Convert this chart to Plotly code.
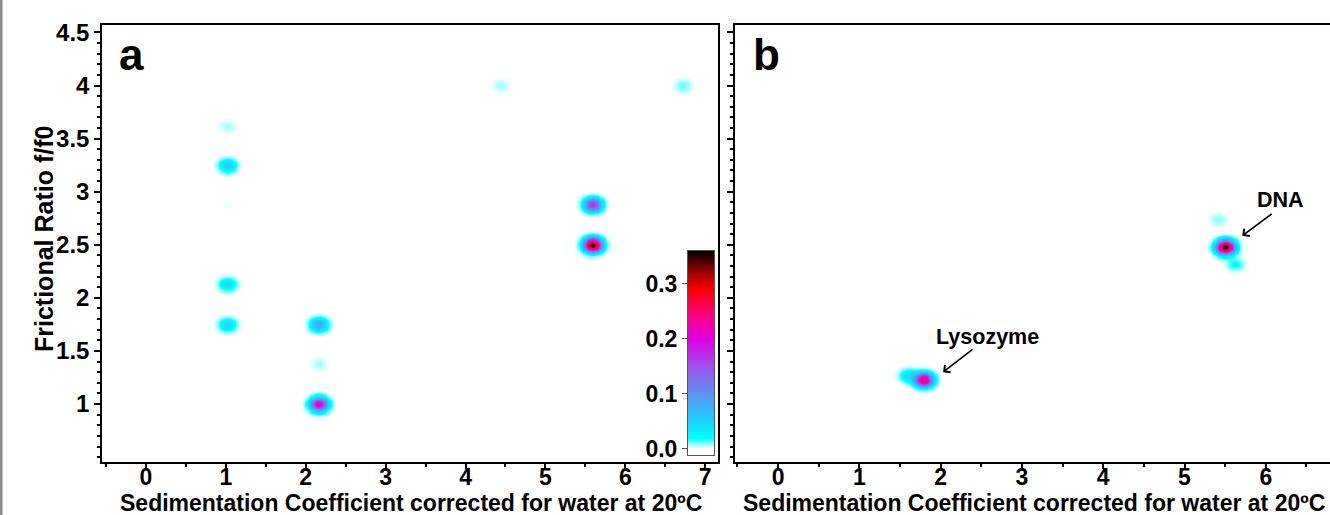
import numpy as np
import plotly.graph_objects as go

# Peak list, panel a: sedimentation coefficient, frictional ratio, concentration
a_sed = [1.02, 1.02, 1.02, 1.02, 1.02, 2.16, 2.16, 2.16, 4.44, 6.72, 5.59, 5.59]
a_ff0 = [3.62, 3.25, 2.88, 2.13, 1.75, 1.75, 1.38, 1.00, 4.00, 4.00, 2.88, 2.50]
a_conc = [0.008, 0.055, 0.002, 0.045, 0.045, 0.085, 0.008, 0.22, 0.008, 0.013, 0.17, 0.36]

# Peak list, panel b
b_sed = [1.60, 1.79, 5.41, 5.50, 5.62]
b_ff0 = [1.27, 1.23, 2.74, 2.48, 2.32]
b_conc = [0.04, 0.26, 0.010, 0.36, 0.022]

x_ticks = [0, 1, 2, 3, 4, 5, 6, 7]
y_ticks = [1, 1.5, 2, 2.5, 3, 3.5, 4, 4.5]
cbar_ticks = [0.0, 0.1, 0.2, 0.3]

SIG_S = 0.072
SIG_F = 0.042
ZMIN, ZMAX = -0.011, 0.359

W, H = 1330, 515
FONT = "Liberation Sans, Arial, sans-serif"

grid_s = np.arange(-0.6, 7.25, 0.015)
grid_f = np.arange(0.40, 4.62, 0.01)


def density(sed, ff0, conc):
    S, F = np.meshgrid(grid_s, grid_f)
    z = np.zeros_like(S)
    for s, f, c in zip(sed, ff0, conc):
        z += c * np.exp(-((S - s) ** 2) / (2 * SIG_S ** 2) - ((F - f) ** 2) / (2 * SIG_F ** 2))
    return np.round(z, 4)


def frac(v):
    return (v - ZMIN) / (ZMAX - ZMIN)


colorscale = [
    [0.0, "#ffffff"],
    [frac(0.001), "#ffffff"],
    [frac(0.02), "#00ffff"],
    [frac(0.06), "#28c4ff"],
    [frac(0.10), "#5a94f2"],
    [frac(0.15), "#a050f0"],
    [frac(0.20), "#e000e0"],
    [frac(0.25), "#ff0070"],
    [frac(0.29), "#ff0000"],
    [frac(0.325), "#900000"],
    [1.0, "#000000"],
]

fig = go.Figure()

hm = dict(x=grid_s, y=grid_f, colorscale=colorscale, zmin=ZMIN, zmax=ZMAX,
          zsmooth="best", showscale=False, hoverinfo="skip")
fig.add_trace(go.Heatmap(z=density(a_sed, a_ff0, a_conc), xaxis="x", yaxis="y", **hm))
fig.add_trace(go.Heatmap(z=density(b_sed, b_ff0, b_conc), xaxis="x2", yaxis="y2", **hm))

# colour bar drawn as its own small heatmap so the labels sit on the left
bar_vals = np.linspace(ZMIN, ZMAX, 300)
fig.add_trace(go.Heatmap(z=bar_vals.reshape(-1, 1), x=[0], y=bar_vals, xaxis="x3", yaxis="y3",
                         colorscale=colorscale, zmin=ZMIN, zmax=ZMAX, zsmooth="best",
                         showscale=False, hoverinfo="skip"))

tickfont = dict(family=FONT, size=24, color="black", weight="bold")
xcommon = dict(showline=True, linecolor="black", linewidth=1.5, mirror=True, automargin=False,
               ticks="outside", ticklen=6, tickwidth=1.5, tickcolor="black",
               ticklabelstandoff=-12,
               tickvals=x_ticks, tickfont=dict(tickfont, size=23), showgrid=False, zeroline=False,
               minor=dict(dtick=0.5, tick0=0, ticks="outside", ticklen=4, tickcolor="black"))
ycommon = dict(showline=True, linecolor="black", linewidth=1.5, automargin=False,
               ticks="outside", ticklen=6, tickwidth=1.5, tickcolor="black",
               tickvals=y_ticks, tickfont=tickfont, showgrid=False, zeroline=False,
               range=[0.457, 4.57], domain=[1 - 461.7 / H, 1 - 25 / H],
               minor=dict(dtick=0.1, tick0=0, ticks="outside", ticklen=3, tickcolor="black"))

fig.update_layout(
    width=W, height=H,
    margin=dict(l=0, r=0, t=0, b=0),
    paper_bgcolor="white", plot_bgcolor="white",
    xaxis=dict(xcommon, range=[-0.55, 7.16], domain=[102 / W, 718 / W], anchor="y"),
    yaxis=dict(ycommon, mirror=True, anchor="x"),
    xaxis2=dict(xcommon, range=[-0.53, 6.79], domain=[735 / W, 1.0], anchor="y2", mirror=True),
    yaxis2=dict(ycommon, showticklabels=False, anchor="x2"),
    xaxis3=dict(domain=[688 / W, 714 / W], anchor="y3", range=[-0.5, 0.5], showticklabels=False,
                ticks="", showgrid=False, zeroline=False, showline=True, mirror=True,
                linecolor="#555555", linewidth=1, automargin=False),
    yaxis3=dict(domain=[1 - 455 / H, 1 - 251 / H], anchor="x3", range=[ZMIN, ZMAX],
                tickvals=cbar_ticks, tickformat=".1f", ticks="outside", ticklen=5,
                tickcolor="#555555", tickfont=dict(tickfont, size=23), showgrid=False,
                zeroline=False, showline=True, mirror=True, linecolor="#555555", linewidth=1,
                automargin=False),
    showlegend=False,
)

title_font = dict(family=FONT, size=23, color="black", weight="bold")
xtitle = "Sedimentation Coefficient corrected for water at 20ºC"
fig.add_annotation(text=xtitle, xref="paper", yref="paper", x=411 / W, y=1 - 503 / H,
                   showarrow=False, font=title_font, xanchor="center", yanchor="middle")
fig.add_annotation(text=xtitle, xref="paper", yref="paper", x=1034 / W, y=1 - 503 / H,
                   showarrow=False, font=title_font, xanchor="center", yanchor="middle")
fig.add_annotation(text="Frictional Ratio f/f0", xref="paper", yref="paper", x=44 / W, y=1 - 239 / H,
                   showarrow=False, textangle=-90, font=dict(title_font, size=25),
                   xanchor="center", yanchor="middle")

panel_font = dict(family=FONT, size=44, color="black", weight="bold")
fig.add_annotation(text="a", xref="paper", yref="paper", x=131 / W, y=1 - 55 / H,
                   showarrow=False, font=panel_font, xanchor="center", yanchor="middle")
fig.add_annotation(text="b", xref="paper", yref="paper", x=766 / W, y=1 - 55 / H,
                   showarrow=False, font=panel_font, xanchor="center", yanchor="middle")

# peak labels with arrows in panel b
label_font = dict(family=FONT, size=21.5, color="black", weight="bold")
fig.add_annotation(text="", x=2.03, y=1.30, xref="x2", yref="y2", ax=31, ay=-24,
                   showarrow=True, arrowhead=4, arrowsize=1.1, arrowwidth=1.6, arrowcolor="black")
fig.add_annotation(text="Lysozyme", x=2.58, y=1.63, xref="x2", yref="y2",
                   showarrow=False, font=label_font)
fig.add_annotation(text="", x=5.71, y=2.584, xref="x2", yref="y2", ax=31, ay=-23,
                   showarrow=True, arrowhead=4, arrowsize=1.1, arrowwidth=1.6, arrowcolor="black")
fig.add_annotation(text="DNA", x=6.18, y=2.92, xref="x2", yref="y2",
                   showarrow=False, font=label_font)

# grey strip along the left edge of the page
fig.add_shape(type="rect", xref="paper", yref="paper", x0=0, x1=2.5 / W, y0=0, y1=1,
              line=dict(width=0), fillcolor="#8a8a8a")

# drop the browser's default body margin so the figure fills the window exactly
fig.write_html("out.html", config={"displayModeBar": False},
               post_script="document.body.style.margin = '0';")
